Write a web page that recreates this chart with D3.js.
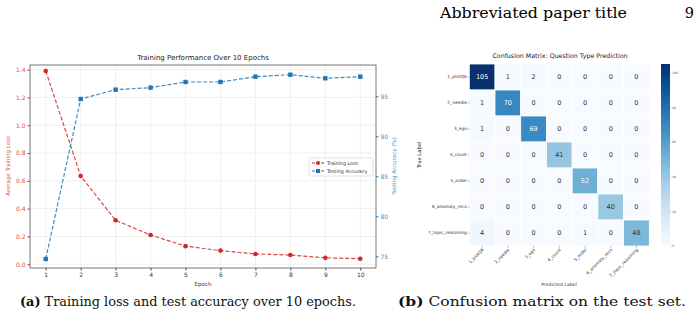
<!DOCTYPE html>
<html><head><meta charset="utf-8">
<script src="https://cdn.jsdelivr.net/npm/d3@7"></script>
<style>body{margin:0;background:#fff}svg{display:block}</style>
</head><body>
<svg id="c" width="700" height="318"></svg>
<script>
// ---- data ----
const epochs = [1,2,3,4,5,6,7,8,9,10];
const trainingLoss = [1.39,0.635,0.316,0.21,0.13,0.098,0.074,0.066,0.046,0.04];
const testingAccuracy = [74.66,94.66,95.83,96.08,96.79,96.79,97.45,97.7,97.25,97.45];
const lossTicks = [0.0,0.2,0.4,0.6,0.8,1.0,1.2,1.4];
const accTicks = [75,80,85,90,95];
const classLabels = ["1_plotQA","2_needle","3_ego","4_count","5_order","6_anomaly_reco","7_topic_reasoning"];
const confusion = [
  [105,1,2,0,0,0,0],
  [1,70,0,0,0,0,0],
  [1,0,69,0,0,0,0],
  [0,0,0,41,0,0,0],
  [0,0,0,0,52,0,0],
  [0,0,0,0,0,40,0],
  [4,0,0,0,1,0,48]
];
const colorbarTicks = [0,20,40,60,80,100];

const svg = d3.select("#c");
const sans = "DejaVu Sans, sans-serif";
const serif = "DejaVu Serif, Liberation Serif, serif";
const red = "#d62728", blue = "#1f77b4";

// header
svg.append("text").attr("x",440).attr("y",18)
  .attr("font-family",serif).attr("font-size",14.5).attr("textLength",187).attr("lengthAdjust","spacingAndGlyphs")
  .text("Abbreviated paper title");
svg.append("text").attr("x",694).attr("y",18).attr("text-anchor","end")
  .attr("font-family",serif).attr("font-size",14.5).text("9");

// ---- left chart ----
const L = {x0:30,x1:376,y0:65,y1:268};
const x = d3.scaleLinear().domain([0.55,10.45]).range([L.x0,L.x1]);
const yL = d3.scaleLinear().domain([-0.027,1.433]).range([L.y1,L.y0]);
const yA = d3.scaleLinear().domain([75,95]).range([256.3,96.3]);
const g = svg.append("g");
g.selectAll(".gx").data(epochs).join("line").attr("x1",d=>x(d)).attr("x2",d=>x(d))
  .attr("y1",L.y0).attr("y2",L.y1).attr("stroke","#e6e6e6").attr("stroke-width",0.6);
g.selectAll(".gy").data(lossTicks).join("line").attr("y1",d=>yL(d)).attr("y2",d=>yL(d))
  .attr("x1",L.x0).attr("x2",L.x1).attr("stroke","#e6e6e6").attr("stroke-width",0.6);
g.append("rect").attr("x",L.x0).attr("y",L.y0).attr("width",L.x1-L.x0).attr("height",L.y1-L.y0)
  .attr("fill","none").attr("stroke","#555").attr("stroke-width",0.8);
const ax = g.append("g").attr("transform",`translate(0,${L.y1})`)
  .call(d3.axisBottom(x).tickValues(epochs).tickSize(2.5).tickPadding(2));
const ayl = g.append("g").attr("transform",`translate(${L.x0},0)`)
  .call(d3.axisLeft(yL).tickValues(lossTicks).tickFormat(d3.format(".1f")).tickSize(2.5).tickPadding(2));
const ayr = g.append("g").attr("transform",`translate(${L.x1},0)`)
  .call(d3.axisRight(yA).tickValues(accTicks).tickSize(2.5).tickPadding(2));
[ax,ayl,ayr].forEach(a=>{a.select(".domain").remove();a.selectAll("text").attr("font-family",sans).attr("font-size",6);});
ax.selectAll("line").attr("stroke","#444");ax.selectAll("text").attr("fill","#333");
ayl.selectAll("line").attr("stroke",red);ayl.selectAll("text").attr("fill",red).attr("opacity",0.85);
ayr.selectAll("line").attr("stroke",blue);ayr.selectAll("text").attr("fill",blue).attr("opacity",0.85);
g.append("text").attr("x",203).attr("y",60).attr("text-anchor","middle").attr("font-family",sans)
  .attr("font-size",7).attr("fill","#222").text("Training Performance Over 10 Epochs");
g.append("text").attr("x",203).attr("y",286).attr("text-anchor","middle").attr("font-family",sans)
  .attr("font-size",5.5).attr("fill","#333").text("Epoch");
g.append("text").attr("transform","translate(10,166) rotate(-90)").attr("text-anchor","middle")
  .attr("font-family",sans).attr("font-size",5.5).attr("fill",red).attr("opacity",0.8).text("Average Training Loss");
g.append("text").attr("transform","translate(396,166) rotate(-90)").attr("text-anchor","middle")
  .attr("font-family",sans).attr("font-size",5.5).attr("fill",blue).attr("opacity",0.8).text("Testing Accuracy (%)");
const lossLine = d3.line().x((d,i)=>x(epochs[i])).y(d=>yL(d));
const accLine = d3.line().x((d,i)=>x(epochs[i])).y(d=>yA(d));
g.append("path").datum(trainingLoss).attr("d",lossLine).attr("fill","none").attr("stroke",red)
  .attr("stroke-width",1.2).attr("stroke-dasharray","4,2").attr("opacity",0.85);
g.append("path").datum(testingAccuracy).attr("d",accLine).attr("fill","none").attr("stroke",blue)
  .attr("stroke-width",1.2).attr("stroke-dasharray","4,2").attr("opacity",0.85);
g.selectAll(".lm").data(trainingLoss).join("circle").attr("cx",(d,i)=>x(epochs[i])).attr("cy",d=>yL(d))
  .attr("r",2.3).attr("fill",red);
g.selectAll(".am").data(testingAccuracy).join("rect").attr("x",(d,i)=>x(epochs[i])-2.2).attr("y",d=>yA(d)-2.2)
  .attr("width",4.4).attr("height",4.4).attr("fill",blue);
const lg = g.append("g").attr("transform","translate(309,158)");
lg.append("rect").attr("width",64).attr("height",18).attr("fill","#fff").attr("stroke","#ccc").attr("stroke-width",0.6).attr("rx",1);
[["Training Loss",red,"c"],["Testing Accuracy",blue,"s"]].forEach((e,i)=>{
  const yy = 5 + i*8;
  lg.append("line").attr("x1",3).attr("x2",15).attr("y1",yy).attr("y2",yy).attr("stroke",e[1]).attr("stroke-width",1.1).attr("stroke-dasharray","3,1.5");
  if(e[2]==="c") lg.append("circle").attr("cx",9).attr("cy",yy).attr("r",2).attr("fill",e[1]);
  else lg.append("rect").attr("x",7).attr("y",yy-2).attr("width",4).attr("height",4).attr("fill",e[1]);
  lg.append("text").attr("x",18).attr("y",yy+1.8).attr("font-family",sans).attr("font-size",4.8).attr("fill","#333").text(e[0]);
});

// ---- confusion matrix ----
const M = {x0:469.3,x1:649.3,y0:64,y1:246};
const cx = d3.scaleBand().domain(d3.range(classLabels.length)).range([M.x0,M.x1]);
const cy = d3.scaleBand().domain(d3.range(classLabels.length)).range([M.y0,M.y1]);
const vmax = 105;
const color = d3.scaleSequential(d3.interpolateBlues).domain([0,vmax]);
const relLum = c => { const rgb = d3.rgb(c); const f = v => { v/=255; return v<=0.03928? v/12.92 : Math.pow((v+0.055)/1.055,2.4); };
  return 0.2126*f(rgb.r)+0.7152*f(rgb.g)+0.0722*f(rgb.b); };
const cells = [];
confusion.forEach((row,r)=>row.forEach((v,c)=>cells.push({r,c,v})));
const mg = svg.append("g");
mg.selectAll(".cell").data(cells).join("rect").attr("x",d=>cx(d.c)).attr("y",d=>cy(d.r))
  .attr("width",cx.bandwidth()).attr("height",cy.bandwidth()).attr("fill",d=>color(d.v))
  .attr("stroke","#fff").attr("stroke-width",0.8);
mg.selectAll(".ann").data(cells).join("text").attr("x",d=>cx(d.c)+cx.bandwidth()/2)
  .attr("y",d=>cy(d.r)+cy.bandwidth()/2+2.3).attr("text-anchor","middle").attr("font-family",sans)
  .attr("font-size",6.5).attr("fill",d=>relLum(color(d.v))>0.408?"#333":"#fff").text(d=>d.v);
const ry = mg.append("g").attr("transform",`translate(${M.x0},0)`)
  .call(d3.axisLeft(cy).tickFormat(i=>classLabels[i]).tickSize(1.5).tickPadding(1));
ry.select(".domain").remove();
ry.selectAll("text").attr("font-family",sans).attr("font-size",4.3).attr("fill","#333");
ry.selectAll("line").attr("stroke","#555").attr("stroke-width",0.5);
const rx = mg.append("g").attr("transform",`translate(0,${M.y1})`)
  .call(d3.axisBottom(cx).tickFormat(i=>classLabels[i]).tickSize(1.5).tickPadding(1));
rx.select(".domain").remove();
rx.selectAll("line").attr("stroke","#555").attr("stroke-width",0.5);
rx.selectAll("text").attr("font-family",sans).attr("font-size",4.3).attr("fill","#333")
  .attr("text-anchor","end").attr("dy",null).attr("y",4).attr("x",2)
  .attr("transform","rotate(-45,2,4)");
mg.append("text").attr("x",560).attr("y",58).attr("text-anchor","middle").attr("font-family",sans)
  .attr("font-size",6.3).attr("fill","#222").text("Confusion Matrix: Question Type Prediction");
mg.append("text").attr("transform","translate(421,155) rotate(-90)").attr("text-anchor","middle")
  .attr("font-family",sans).attr("font-size",5.2).attr("fill","#222").text("True Label");
mg.append("text").attr("x",559).attr("y",286).attr("text-anchor","middle").attr("font-family",sans)
  .attr("font-size",4.6).attr("fill","#333").text("Predicted Label");
const cb = {x:661,w:9,y0:64,y1:246};
const cbScale = d3.scaleLinear().domain([0,vmax]).range([cb.y1,cb.y0]);
const defs = svg.append("defs");
const grad = defs.append("linearGradient").attr("id","cbg").attr("x1",0).attr("x2",0).attr("y1",1).attr("y2",0);
d3.range(0,1.001,0.05).forEach(t=>grad.append("stop").attr("offset",t).attr("stop-color",color(t*vmax)));
svg.append("rect").attr("x",cb.x).attr("y",cb.y0).attr("width",cb.w).attr("height",cb.y1-cb.y0).attr("fill","url(#cbg)");
const cba = svg.append("g").attr("transform",`translate(${cb.x+cb.w},0)`)
  .call(d3.axisRight(cbScale).tickValues(colorbarTicks).tickSize(1.2).tickPadding(1));
cba.select(".domain").remove();
cba.selectAll("text").attr("font-family",sans).attr("font-size",3).attr("fill","#555");
cba.selectAll("line").attr("stroke","#777").attr("stroke-width",0.4);

// captions
const cap = (xx,len,lab,txt)=>{
  const t = svg.append("text").attr("x",xx).attr("y",306).attr("font-family",serif).attr("font-size",13)
    .attr("fill","#111").attr("textLength",len).attr("lengthAdjust","spacingAndGlyphs");
  t.append("tspan").attr("font-weight","bold").text(lab);
  t.append("tspan").text(" "+txt);
};
cap(20,336,"(a)","Training loss and test accuracy over 10 epochs.");
cap(398,288,"(b)","Confusion matrix on the test set.");
</script>
</body></html>
